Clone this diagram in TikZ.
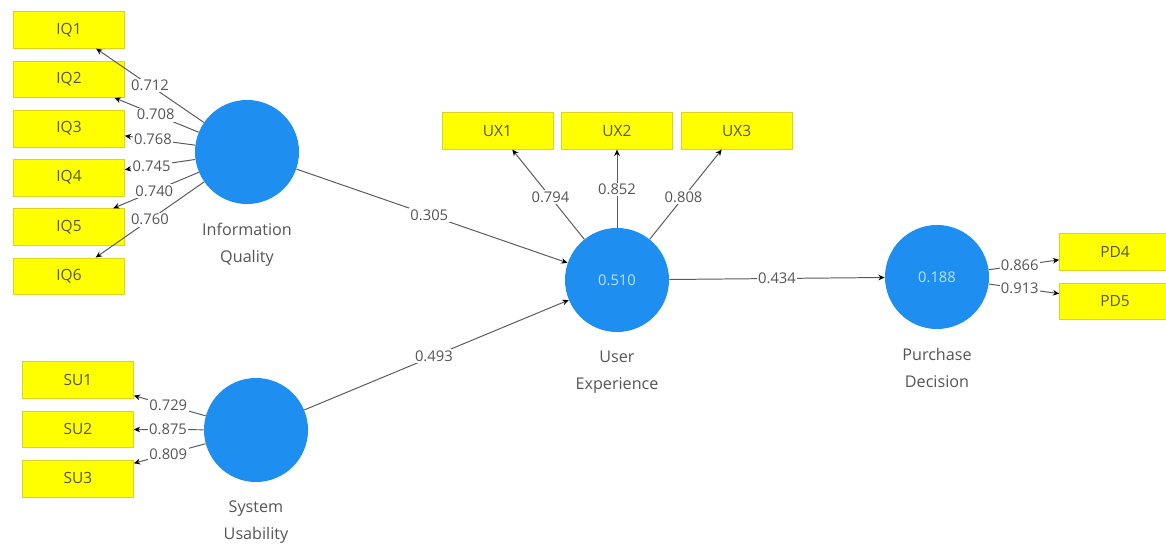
\documentclass[tikz,border=0pt]{standalone}
\usepackage{fontspec}
\setmainfont{Open Sans}
\usepackage{xcolor}
\usepackage{tikz}
\usetikzlibrary{positioning}
\usetikzlibrary{arrows.meta}

\definecolor{lvblue}{RGB}{30,142,240}
\definecolor{indyellow}{RGB}{255,255,0}
\definecolor{pathgray}{RGB}{90,90,90}
\definecolor{textgray}{RGB}{85,85,85}
\definecolor{rsqtext}{RGB}{185,228,255}

\begin{document}
\begin{tikzpicture}[x=0.025cm, y=-0.025cm, node distance=0.3cm,
	latent/.style={circle, fill=lvblue, minimum size=2.6cm, inner sep=0pt, text=rsqtext, font=\fontsize{10.5}{12}\selectfont},
	indicator/.style={rectangle, fill=indyellow, draw=yellow!85!black, line width=0.3pt, minimum width=2.78cm, minimum height=0.92cm, inner sep=0pt, text=textgray, font=\fontsize{11}{13}\selectfont},
	caption/.style={align=center, text=textgray, font=\fontsize{11.5}{19}\selectfont},
	loading/.style={draw=pathgray, line width=0.7pt, -{Stealth[length=4.5pt, width=4pt, black]}},
	coef/.style={fill=white, inner sep=1pt, text=textgray, font=\fontsize{10.5}{12}\selectfont}]
			\useasboundingbox (0,0) rectangle (1166,550);

			% latent variables
			\node[latent] (iq) at (247,152) {};
			\node[latent] (su) at (256,430) {};
			\node[latent] (ux) at (617,280) {0.510};
			\node[latent] (pd) at (937,277) {0.188};

			\node[caption, below=0.35cm of iq] (iqcap) {Information\\Quality};
			\node[caption, below=0.35cm of su] (sucap) {System\\Usability};
			\node[caption, below=0.35cm of ux] (uxcap) {User\\Experience};
			\node[caption, below=0.35cm of pd] (pdcap) {Purchase\\Decision};

			% indicators
			\node[indicator] (iq1) at (69,30) {IQ1};
			\node[indicator, below=of iq1] (iq2) {IQ2};
			\node[indicator, below=of iq2] (iq3) {IQ3};
			\node[indicator, below=of iq3] (iq4) {IQ4};
			\node[indicator, below=of iq4] (iq5) {IQ5};
			\node[indicator, below=of iq5] (iq6) {IQ6};

			\node[indicator] (su1) at (78,380) {SU1};
			\node[indicator, below=of su1] (su2) {SU2};
			\node[indicator, below=of su2] (su3) {SU3};

			\node[indicator] (ux2) at (617,131) {UX2};
			\node[indicator, left=0.2cm of ux2] (ux1) {UX1};
			\node[indicator, right=0.2cm of ux2] (ux3) {UX3};

			\node[indicator] (pd4) at (1115,252) {PD4};
			\node[indicator, below=of pd4] (pd5) {PD5};

			% outer loadings
			\draw[loading] (iq) -- node[coef, pos=0.5] {0.712} (iq1);
			\draw[loading] (iq) -- node[coef, pos=0.51] {0.708} (iq2);
			\draw[loading] (iq) -- node[coef, pos=0.6] {0.768} (iq3);
			\draw[loading] (iq) -- node[coef, pos=0.62] {0.745} (iq4);
			\draw[loading] (iq) -- node[coef, pos=0.52] {0.740} (iq5);
			\draw[loading] (iq) -- node[coef, pos=0.5] {0.760} (iq6);

			\draw[loading] (su) -- node[coef, pos=0.52] {0.729} (su1);
			\draw[loading] (su) -- node[coef, pos=0.51] {0.875} (su2);
			\draw[loading] (su) -- node[coef, pos=0.52] {0.809} (su3);

			\draw[loading] (ux) -- node[coef, pos=0.47] {0.794} (ux1);
			\draw[loading] (ux) -- node[coef, pos=0.49] {0.852} (ux2);
			\draw[loading] (ux) -- node[coef, pos=0.47] {0.808} (ux3);

			\draw[loading] (pd) -- node[coef, pos=0.44] {0.866} (pd4);
			\draw[loading] (pd) -- node[coef, pos=0.44] {0.913} (pd5);

			% path coefficients
			\draw[loading] (iq) -- node[coef, pos=0.49] {0.305} (ux);
			\draw[loading] (su) -- node[coef, pos=0.49] {0.493} (ux);
			\draw[loading] (ux) -- node[coef, pos=0.5] {0.434} (pd);
		\end{tikzpicture}
\end{document}
